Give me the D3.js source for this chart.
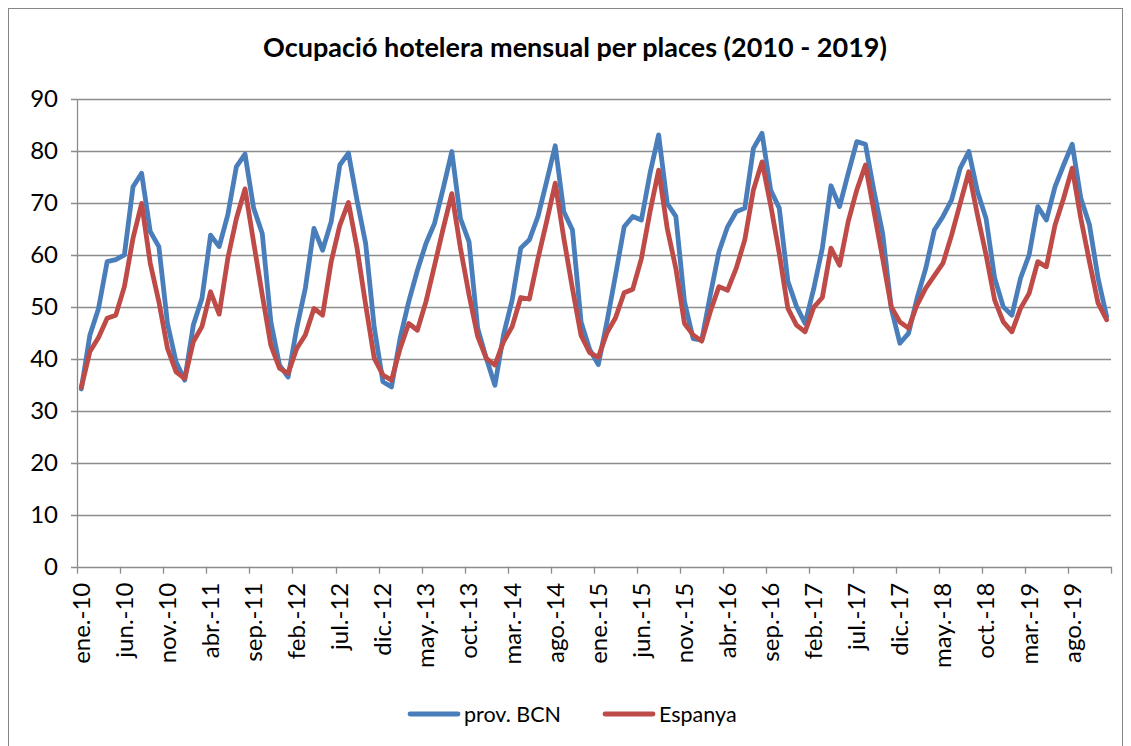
<!DOCTYPE html>
<html>
<head>
<meta charset="utf-8">
<script src="https://cdn.jsdelivr.net/npm/d3@7"></script>
<style>
  body { margin: 0; background: #fff; }
  text { font-family: Lato, "Open Sans", sans-serif; fill: #000; }
</style>
</head>
<body>
<div id="chart"></div>
<script>
var width = 1131;
var height = 746;

// month names and years used for the category axis
var monthNames = ["ene.", "feb.", "mar.", "abr.", "may.", "jun.", "jul.", "ago.", "sep.", "oct.", "nov.", "dic."];
var years = ["10", "11", "12", "13", "14", "15", "16", "17", "18", "19"];

// prov. BCN, monthly, 2010 - 2019
var bcn = [
  34.2, 44.6, 49.7, 58.7, 59.1, 60.0, 73.1, 75.7, 64.5, 61.6, 46.8, 39.4,
  35.9, 46.5, 51.6, 63.8, 61.6, 67.7, 77.0, 79.4, 69.0, 64.1, 47.1, 38.8,
  36.5, 45.9, 53.6, 65.1, 60.9, 66.4, 77.3, 79.6, 70.5, 62.2, 46.0, 35.6,
  34.6, 44.0, 51.0, 57.0, 62.2, 66.1, 72.8, 79.9, 67.0, 62.5, 45.9, 40.1,
  34.9, 44.6, 51.3, 61.3, 62.9, 67.4, 74.1, 81.0, 68.3, 64.8, 47.1, 41.8,
  38.9, 47.1, 56.1, 65.4, 67.4, 66.7, 75.7, 83.1, 69.9, 67.4, 51.0, 43.9,
  43.6, 52.3, 60.6, 65.4, 68.3, 69.0, 80.5, 83.4, 72.5, 69.0, 54.9, 50.1,
  46.8, 53.5, 61.3, 73.3, 69.3, 75.7, 81.8, 81.3, 72.2, 64.1, 49.7, 43.0,
  44.9, 51.7, 57.4, 64.8, 67.4, 70.6, 76.7, 79.9, 72.2, 67.0, 55.5, 50.0,
  48.4, 55.5, 60.0, 69.3, 66.7, 73.1, 77.3, 81.3, 70.9, 65.8, 55.5, 48.1
];

// Espanya, monthly, 2010 - 2019
var espanya = [
  34.5, 41.4, 44.1, 47.8, 48.4, 53.9, 63.2, 69.9, 58.4, 51.0, 42.0, 37.5,
  36.2, 43.3, 46.2, 52.9, 48.6, 59.3, 67.0, 72.7, 62.4, 52.3, 42.6, 38.2,
  37.2, 42.0, 44.6, 49.7, 48.4, 58.7, 65.7, 70.1, 61.3, 50.4, 40.1, 36.9,
  35.9, 42.0, 46.8, 45.5, 51.0, 58.0, 65.1, 71.8, 61.3, 52.3, 44.3, 40.1,
  38.8, 43.3, 46.2, 51.8, 51.5, 59.3, 66.4, 73.8, 63.2, 53.5, 44.5, 41.2,
  40.3, 45.0, 47.9, 52.7, 53.4, 59.3, 68.3, 76.3, 65.1, 57.4, 46.8, 44.6,
  43.4, 49.1, 53.9, 53.2, 57.4, 62.9, 72.5, 77.9, 69.6, 60.3, 49.7, 46.5,
  45.2, 49.9, 51.8, 61.3, 58.0, 66.4, 72.5, 77.3, 68.3, 59.3, 50.0, 47.1,
  45.9, 50.4, 53.6, 56.0, 58.4, 63.8, 69.9, 76.0, 67.7, 60.0, 51.3, 47.1,
  45.2, 49.7, 52.6, 58.7, 57.7, 65.7, 70.9, 76.7, 67.0, 58.7, 50.7, 47.5
];

var yTicks = [0, 10, 20, 30, 40, 50, 60, 70, 80, 90];

var seriesNames = ["prov. BCN", "Espanya"];
var seriesColors = ["#4A7EBB", "#BE4B48"];

// category labels: "ene.-10", "feb.-10", ...
var months = [];
years.forEach(function(y) {
  monthNames.forEach(function(m) { months.push(m + "-" + y); });
});

var margin = {top: 99, left: 77};
var plotRight = 1111;
var plotBottom = 566.7;

var svg = d3.select("#chart")
  .append("svg")
  .attr("width", width)
  .attr("height", height);

// chart area border
svg.append("rect")
  .attr("x", 8.5).attr("y", 8.5)
  .attr("width", 1114).attr("height", 745)
  .attr("fill", "none")
  .attr("stroke", "#868686")
  .attr("stroke-width", 1);

// title
svg.append("text")
  .attr("x", 575)
  .attr("y", 57)
  .attr("text-anchor", "middle")
  .style("font-size", "27px")
  .style("font-weight", "bold")
  .text("Ocupació hotelera mensual per places (2010 - 2019)");

var x = d3.scaleBand()
  .domain(months)
  .range([margin.left, plotRight])
  .paddingInner(0)
  .paddingOuter(0);

var y = d3.scaleLinear()
  .domain([0, 90])
  .range([plotBottom, margin.top]);

// horizontal gridlines
svg.append("g")
  .selectAll("line")
  .data(yTicks)
  .enter().append("line")
  .attr("x1", margin.left - 6)
  .attr("x2", plotRight)
  .attr("y1", function(d) { return Math.round(y(d)) + 0.5; })
  .attr("y2", function(d) { return Math.round(y(d)) + 0.5; })
  .attr("stroke", "#8c8c8c")
  .attr("stroke-width", 1.3);

// y axis labels
var yAxis = svg.append("g")
  .attr("transform", "translate(" + (margin.left - 6) + ",0)")
  .call(d3.axisLeft(y).tickValues(yTicks).tickSize(0).tickPadding(13));
yAxis.select(".domain").remove();
yAxis.selectAll("text")
  .style("font-size", "24px")
  .style("font-family", "Lato, sans-serif");

// y axis line
svg.append("line")
  .attr("x1", margin.left + 0.5).attr("x2", margin.left + 0.5)
  .attr("y1", margin.top).attr("y2", plotBottom)
  .attr("stroke", "#8c8c8c")
  .attr("stroke-width", 1.3);

// x axis: ticks between categories, every 5 months
var tickCats = months.filter(function(d, i) { return i % 5 === 0; });
var tickPos = tickCats.map(function(d) { return x(d); });
tickPos.push(plotRight);

svg.append("g")
  .selectAll("line")
  .data(tickPos)
  .enter().append("line")
  .attr("x1", function(d) { return Math.round(d) + 0.5; })
  .attr("x2", function(d) { return Math.round(d) + 0.5; })
  .attr("y1", plotBottom)
  .attr("y2", plotBottom + 7)
  .attr("stroke", "#8c8c8c")
  .attr("stroke-width", 1.3);

var xAxis = svg.append("g")
  .attr("transform", "translate(0," + plotBottom + ")")
  .call(d3.axisBottom(x).tickValues(tickCats).tickSize(0));
xAxis.select(".domain").remove();
xAxis.selectAll("text")
  .attr("transform", "rotate(-90)")
  .attr("x", -16)
  .attr("y", 0)
  .attr("dy", "0.35em")
  .attr("text-anchor", "end")
  .style("font-size", "24px")
  .style("font-family", "Lato, sans-serif");

// lines
var line = d3.line()
  .x(function(d, i) { return x(months[i]) + x.bandwidth() / 2; })
  .y(function(d) { return y(d); });

[bcn, espanya].forEach(function(data, k) {
  svg.append("path")
    .datum(data)
    .attr("fill", "none")
    .attr("stroke", seriesColors[k])
    .attr("stroke-width", 4.8)
    .attr("stroke-linejoin", "round")
    .attr("stroke-linecap", "round")
    .attr("d", line);
});

// legend
var legendX = [408, 603];
var legend = svg.append("g")
  .selectAll("g")
  .data(seriesNames)
  .enter().append("g")
  .attr("transform", function(d, i) { return "translate(" + legendX[i] + ",714)"; });

legend.append("line")
  .attr("x1", 2).attr("x2", 50)
  .attr("y1", 0).attr("y2", 0)
  .attr("stroke", function(d, i) { return seriesColors[i]; })
  .attr("stroke-width", 4.8)
  .attr("stroke-linecap", "round");

legend.append("text")
  .attr("x", 56)
  .attr("y", 0)
  .attr("dy", "0.35em")
  .style("font-size", "21.5px")
  .text(function(d) { return d; });
</script>
</body>
</html>
